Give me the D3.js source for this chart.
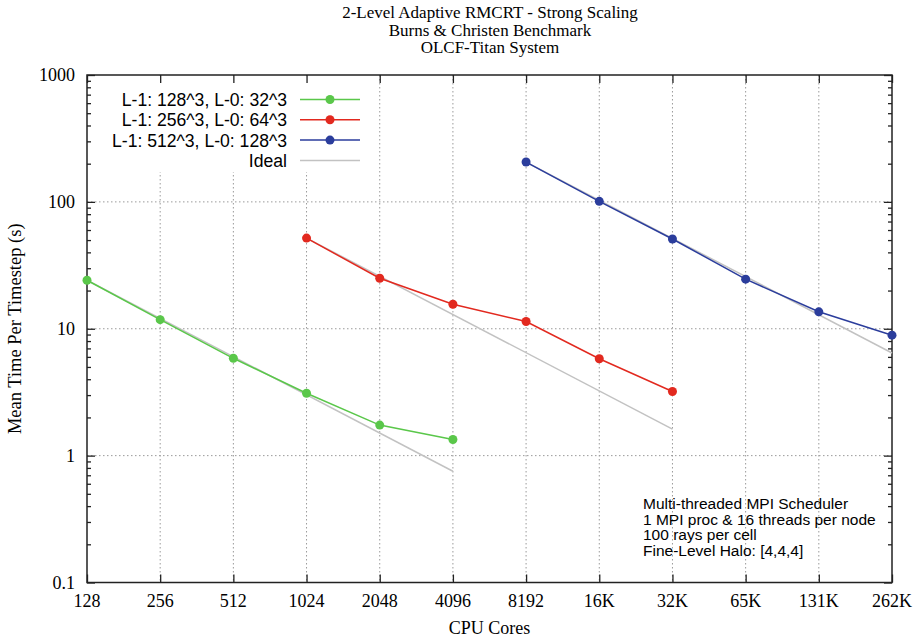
<html>
<script src="https://cdnjs.cloudflare.com/ajax/libs/d3/7.8.5/d3.min.js"></script>
<body style="margin:0;background:white">
  <div id="graph"></div>
</body>
<script>
  // data
  var cores = [128, 256, 512, 1024, 2048, 4096, 8192, 16384, 32768, 65536, 131072, 262144]
  var coreLabels = ["128", "256", "512", "1024", "2048", "4096", "8192", "16K", "32K", "65K", "131K", "262K"]

  var greenX = [128, 256, 512, 1024, 2048, 4096]
  var greenY = [24.1, 11.8, 5.85, 3.1, 1.74, 1.34]
  var redX = [1024, 2048, 4096, 8192, 16384, 32768]
  var redY = [51.8, 25.0, 15.6, 11.4, 5.8, 3.2]
  var blueX = [8192, 16384, 32768, 65536, 131072, 262144]
  var blueY = [206, 101, 51, 24.6, 13.6, 8.9]

  var seriesNames = ["L-1: 128^3, L-0: 32^3", "L-1: 256^3, L-0: 64^3", "L-1: 512^3, L-0: 128^3", "Ideal"]
  var colors = ["#5ac74a", "#e2291f", "#2b3d9c", "#c2c2c2"]

  var titleLines = ["2-Level Adaptive RMCRT - Strong Scaling", "Burns & Christen Benchmark", "OLCF-Titan System"]
  var noteLines = ["Multi-threaded MPI Scheduler", "1 MPI proc & 16 threads per node", "100 rays per cell", "Fine-Level Halo: [4,4,4]"]
  var yTicks = [0.1, 1, 10, 100, 1000]

  var WIDTH = 919, HEIGHT = 640
  var L = 87, R = 892, T = 75, B = 582.5

  var svg = d3.select("#graph").append("svg")
      .attr("width", WIDTH).attr("height", HEIGHT)

  var X = d3.scaleLog().base(2).domain([128, 262144]).range([L, R])
  var Y = d3.scaleLog().domain([0.1, 1000]).range([B, T])

  var serif = "'Liberation Serif', 'DejaVu Serif', serif"
  var sans = "'Liberation Sans', Arial, sans-serif"

  // grid
  var grid = svg.append("g")
  grid.selectAll("line.gx").data(cores.slice(1, -1)).enter().append("line")
      .attr("x1", d => X(d)).attr("x2", d => X(d)).attr("y1", T).attr("y2", B)
      .style("stroke", "#9a9a9a").style("stroke-width", 1).style("stroke-dasharray", "1.5,2.5")
  grid.selectAll("line.gy").data(yTicks.slice(1, -1)).enter().append("line")
      .attr("x1", L).attr("x2", R).attr("y1", d => Y(d)).attr("y2", d => Y(d))
      .style("stroke", "#9a9a9a").style("stroke-width", 1).style("stroke-dasharray", "1.5,2.5")

  // legend background hides the grid behind it
  svg.append("rect").attr("x", L + 1).attr("y", T + 1).attr("width", 281).attr("height", 96)
      .style("fill", "white")

  // minor ticks for the log y axis
  var minor = []
  for (var e = -1; e < 3; e++) {
      for (var m = 2; m < 10; m++) minor.push(m * Math.pow(10, e))
  }

  function styleAxis(g) {
      g.select(".domain").remove()
      g.selectAll(".tick line").style("stroke", "#222").style("stroke-width", 1.3)
      g.selectAll(".tick text").remove()
  }

  // inward ticks on all four sides
  svg.append("g").attr("transform", "translate(0," + B + ")")
      .call(d3.axisBottom(X).tickValues(cores).tickSize(-8)).call(styleAxis)
  svg.append("g").attr("transform", "translate(0," + T + ")")
      .call(d3.axisTop(X).tickValues(cores).tickSize(-8)).call(styleAxis)
  svg.append("g").attr("transform", "translate(" + L + ",0)")
      .call(d3.axisLeft(Y).tickValues(yTicks).tickSize(-8)).call(styleAxis)
  svg.append("g").attr("transform", "translate(" + L + ",0)")
      .call(d3.axisLeft(Y).tickValues(minor).tickSize(-4)).call(styleAxis)
  svg.append("g").attr("transform", "translate(" + R + ",0)")
      .call(d3.axisRight(Y).tickValues(yTicks).tickSize(-8)).call(styleAxis)
  svg.append("g").attr("transform", "translate(" + R + ",0)")
      .call(d3.axisRight(Y).tickValues(minor).tickSize(-4)).call(styleAxis)

  // frame
  svg.append("rect").attr("x", L).attr("y", T).attr("width", R - L).attr("height", B - T)
      .style("fill", "none").style("stroke", "#222").style("stroke-width", 1.5)

  // tick labels
  svg.selectAll("text.xl").data(cores).enter().append("text")
      .attr("x", d => X(d)).attr("y", 607)
      .attr("text-anchor", "middle").style("font-family", serif).style("font-size", "18px")
      .text((d, i) => coreLabels[i])
  svg.selectAll("text.yl").data(yTicks).enter().append("text")
      .attr("x", L - 12).attr("y", d => Y(d) + 6)
      .attr("text-anchor", "end").style("font-family", serif).style("font-size", "18px")
      .text(d => d)

  // titles
  svg.selectAll("text.title").data(titleLines).enter().append("text")
      .attr("x", 490).attr("y", (d, i) => 18 + i * 17.5)
      .attr("text-anchor", "middle").style("font-family", serif).style("font-size", "17px")
      .text(d => d)
  svg.append("text").attr("x", (L + R) / 2).attr("y", 634)
      .attr("text-anchor", "middle").style("font-family", serif).style("font-size", "18px")
      .text("CPU Cores")
  svg.append("text").attr("transform", "translate(21," + ((T + B) / 2) + ") rotate(-90)")
      .attr("text-anchor", "middle").style("font-family", serif).style("font-size", "18.5px")
      .text("Mean Time Per Timestep (s)")

  // series
  var series = [
      {xs: greenX, ys: greenY, c: colors[0]},
      {xs: redX, ys: redY, c: colors[1]},
      {xs: blueX, ys: blueY, c: colors[2]}
  ]
  var line = d3.line().x(d => X(d[0])).y(d => Y(d[1]))

  // ideal scaling lines first so data lines sit on top
  series.forEach(s => {
      var x0 = s.xs[0], y0 = s.ys[0], x1 = s.xs[s.xs.length - 1]
      svg.append("path").datum([[x0, y0], [x1, y0 * x0 / x1]])
          .attr("d", line).style("fill", "none").style("stroke", colors[3]).style("stroke-width", 1.5)
  })

  series.forEach(s => {
      var pts = _zip(s.xs, s.ys)
      svg.append("path").datum(pts).attr("d", line)
          .style("fill", "none").style("stroke", s.c).style("stroke-width", 1.5)
      svg.selectAll(null).data(pts).enter().append("circle")
          .attr("cx", d => X(d[0])).attr("cy", d => Y(d[1])).attr("r", 4.5)
          .style("fill", s.c)
  })

  function _zip(a, b) { return a.map((v, i) => [v, b[i]]) }

  // legend
  var leg = svg.append("g")
  seriesNames.forEach((name, i) => {
      var y = 99.5 + i * 20.3
      leg.append("text").attr("x", 287).attr("y", y + 6.5)
          .attr("text-anchor", "end").style("font-family", sans).style("font-size", "17.6px")
          .text(name)
      leg.append("line").attr("x1", 300).attr("x2", 360).attr("y1", y).attr("y2", y)
          .style("stroke", colors[i]).style("stroke-width", 1.5)
      if (i < 3) leg.append("circle").attr("cx", 330).attr("cy", y).attr("r", 4.5).style("fill", colors[i])
  })

  // annotation
  svg.selectAll("text.note").data(noteLines).enter().append("text")
      .attr("x", 643).attr("y", (d, i) => 509 + i * 15.7)
      .style("font-family", sans).style("font-size", "15.5px")
      .text(d => d)
</script>
</html>
